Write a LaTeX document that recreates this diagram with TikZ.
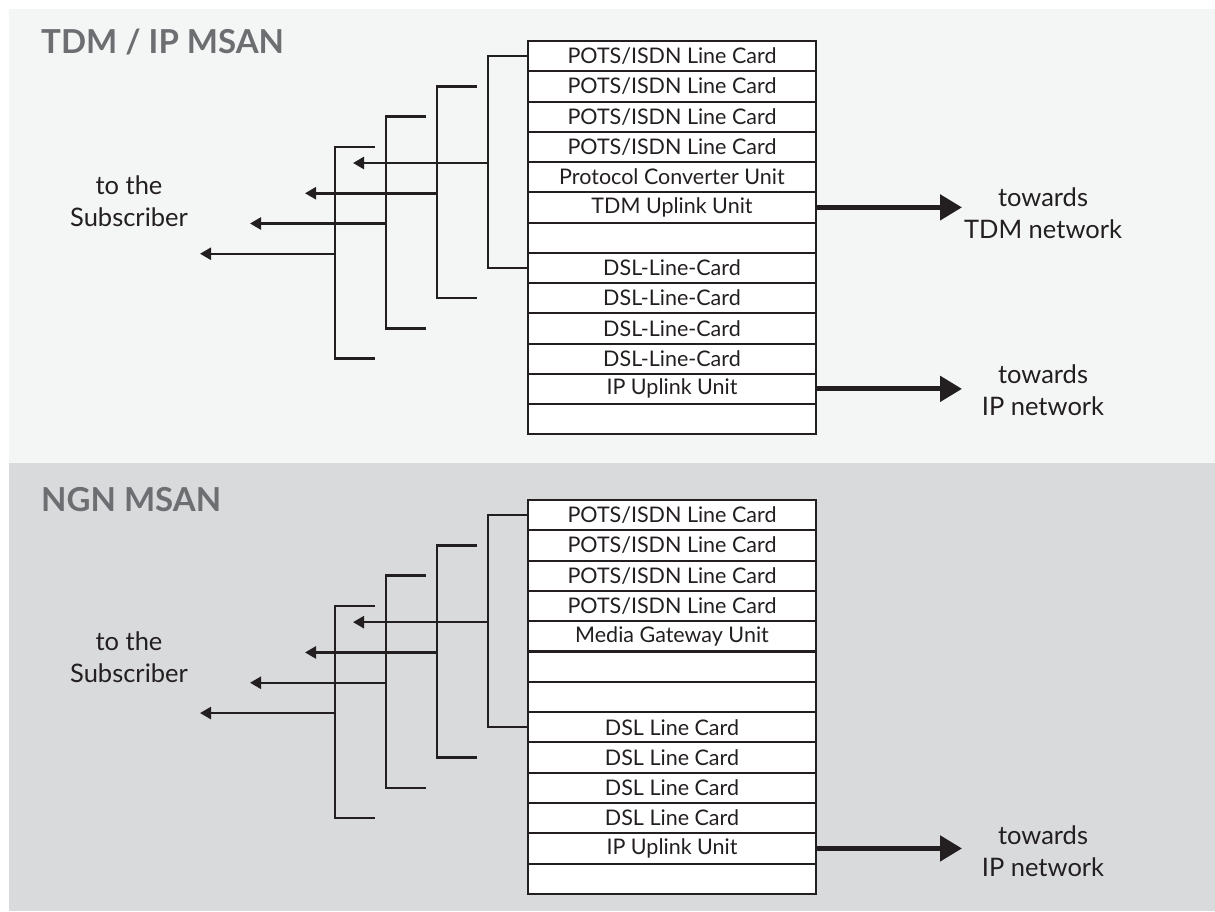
\documentclass[tikz,border=0pt]{standalone}
\usepackage{fontspec}
\setmainfont{Lato}
\usetikzlibrary{arrows.meta,calc}
\definecolor{topbg}{HTML}{F4F6F5}
\definecolor{botbg}{HTML}{D9DADC}
\definecolor{ttl}{HTML}{6D6E71}
\definecolor{ink}{HTML}{231F20}
\begin{document}
\begin{tikzpicture}[x=1pt,y=-1pt,
  card/.style={draw=ink, line width=2pt, fill=white, minimum width=288pt, minimum height=30.25pt, anchor=north west, inner sep=0pt, font=\fontsize{21.5}{24}\selectfont, text=ink},
  bracket/.style={draw=ink, line width=2.5pt},
  subarrow/.style={draw=ink, line width=2.5pt, -{Triangle[length=11pt,width=12pt]}},
  netarrow/.style={draw=ink, line width=5pt, -{Triangle[length=22pt,width=25pt]}},
  lbl/.style={font=\fontsize{25.5}{31.5}\selectfont, text=ink, align=center},
  ttlstyle/.style={font=\bfseries\fontsize{33}{36}\selectfont, text=ttl, anchor=base west, inner sep=0pt}]
\useasboundingbox (0,0) rectangle (1215,911);
\fill[white] (0,0) rectangle (1215,911);
\fill[topbg] (9,9) rectangle (1215,463);
\fill[botbg] (9,463) rectangle (1215,911);

\node[ttlstyle] (t1) at (41,53) {TDM / IP MSAN};
\node[ttlstyle] (t2) at (41,511) {NGN MSAN};

% top stack
\foreach \t [count=\i] in {POTS/ISDN Line Card,POTS/ISDN Line Card,POTS/ISDN Line Card,POTS/ISDN Line Card,Protocol Converter Unit,TDM Uplink Unit,{},DSL-Line-Card,DSL-Line-Card,DSL-Line-Card,DSL-Line-Card,IP Uplink Unit,{}}
  \node[card] (tr\i) at (527,{40+(\i-1)*30.25}) {\t};

% bottom stack
\foreach \t [count=\i] in {POTS/ISDN Line Card,POTS/ISDN Line Card,POTS/ISDN Line Card,POTS/ISDN Line Card,Media Gateway Unit,{},{},DSL Line Card,DSL Line Card,DSL Line Card,DSL Line Card,IP Uplink Unit,{}}
  \node[card] (br\i) at (527,{499+(\i-1)*30.3}) {\t};

% brackets and subscriber arrows for both panels
\foreach \p in {t,b}{
  \draw[bracket] (\p r1.west) -- ++(-39,0) |- (\p r8.west);
  \coordinate (\p b2t) at ($(\p r2.west)+(-50,0)$);
  \coordinate (\p b2b) at ($(\p r9.west)+(-50,0)$);
  \draw[bracket] (\p b2t) -- ++(-40,0) |- (\p b2b);
  \coordinate (\p b3t) at ($(\p r3.west)+(-101,0)$);
  \coordinate (\p b3b) at ($(\p r10.west)+(-101,0)$);
  \draw[bracket] (\p b3t) -- ++(-40,0) |- (\p b3b);
  \coordinate (\p b4t) at ($(\p r4.west)+(-152,0)$);
  \coordinate (\p b4b) at ($(\p r11.west)+(-152,0)$);
  \draw[bracket] (\p b4t) -- ++(-40,0) |- (\p b4b);
  % arrows
  \coordinate (\p s1) at ($(\p r4.south west)+(-39,0)$);
  \coordinate (\p s1e) at ($(\p s1)+(-135,0)$);
  \draw[subarrow] (\p s1) -- (\p s1e);
  \coordinate (\p s2) at ($(\p r5.south west)+(-90,0)$);
  \coordinate (\p s2e) at ($(\p s2)+(-132,0)$);
  \draw[subarrow] (\p s2) -- (\p s2e);
  \coordinate (\p s3) at ($(\p r6.south west)+(-141,0)$);
  \coordinate (\p s3e) at ($(\p s3)+(-136,0)$);
  \draw[subarrow] (\p s3) -- (\p s3e);
  \coordinate (\p s4) at ($(\p r7.south west)+(-192,0)$);
  \coordinate (\p s4e) at ($(\p s4)+(-135,0)$);
  \draw[subarrow] (\p s4) -- (\p s4e);
  % IP arrow
  \coordinate (\p ipe) at ($(\p r12.east)+(145,0)$);
  \draw[netarrow] (\p r12.east) -- (\p ipe);
}
\coordinate (tdme) at ($(tr6.east)+(145,0)$);
\draw[netarrow] (tr6.east) -- (tdme);

\node[lbl] (sub1) at (129,201) {to the\\Subscriber};
\node[lbl] (sub2) at (129,657) {to the\\Subscriber};
\node[lbl] (tdmlbl) at (1043,213) {towards\\TDM network};
\node[lbl] (iplbl1) at (1043,390) {towards\\IP network};
\node[lbl] (iplbl2) at (1043,851) {towards\\IP network};
\end{tikzpicture}
\end{document}
